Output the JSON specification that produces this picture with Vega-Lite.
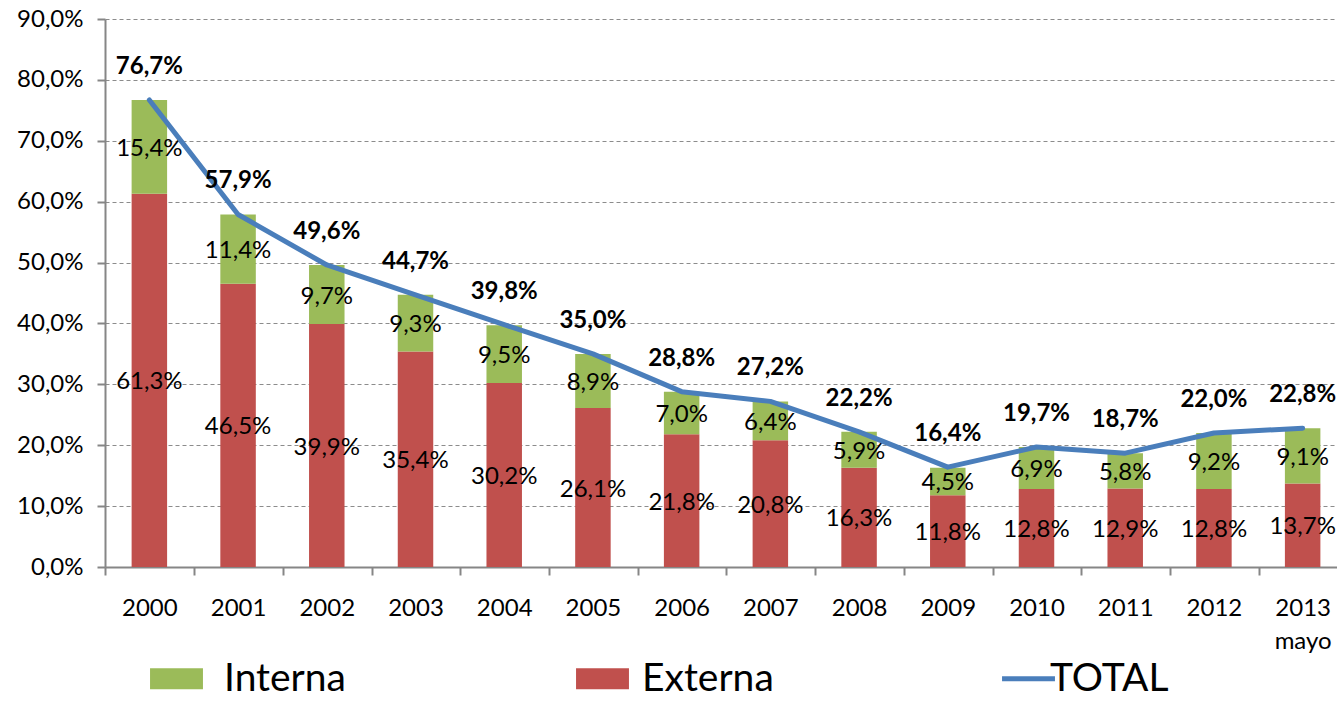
{
  "$schema": "https://vega.github.io/schema/vega-lite/v6.json",
  "width": 1242,
  "height": 548,
  "autosize": {"type": "none"},
  "padding": {"left": 105, "top": 19, "right": 0, "bottom": 134},
  "background": "white",
  "datasets": {
    "parts": [
      {"year": "2000", "type": "Externa", "ord": 1, "value": 0.613},
      {"year": "2000", "type": "Interna", "ord": 2, "value": 0.154},
      {"year": "2001", "type": "Externa", "ord": 1, "value": 0.465},
      {"year": "2001", "type": "Interna", "ord": 2, "value": 0.114},
      {"year": "2002", "type": "Externa", "ord": 1, "value": 0.399},
      {"year": "2002", "type": "Interna", "ord": 2, "value": 0.097},
      {"year": "2003", "type": "Externa", "ord": 1, "value": 0.354},
      {"year": "2003", "type": "Interna", "ord": 2, "value": 0.093},
      {"year": "2004", "type": "Externa", "ord": 1, "value": 0.302},
      {"year": "2004", "type": "Interna", "ord": 2, "value": 0.095},
      {"year": "2005", "type": "Externa", "ord": 1, "value": 0.261},
      {"year": "2005", "type": "Interna", "ord": 2, "value": 0.089},
      {"year": "2006", "type": "Externa", "ord": 1, "value": 0.218},
      {"year": "2006", "type": "Interna", "ord": 2, "value": 0.070},
      {"year": "2007", "type": "Externa", "ord": 1, "value": 0.208},
      {"year": "2007", "type": "Interna", "ord": 2, "value": 0.064},
      {"year": "2008", "type": "Externa", "ord": 1, "value": 0.163},
      {"year": "2008", "type": "Interna", "ord": 2, "value": 0.059},
      {"year": "2009", "type": "Externa", "ord": 1, "value": 0.118},
      {"year": "2009", "type": "Interna", "ord": 2, "value": 0.045},
      {"year": "2010", "type": "Externa", "ord": 1, "value": 0.128},
      {"year": "2010", "type": "Interna", "ord": 2, "value": 0.069},
      {"year": "2011", "type": "Externa", "ord": 1, "value": 0.129},
      {"year": "2011", "type": "Interna", "ord": 2, "value": 0.058},
      {"year": "2012", "type": "Externa", "ord": 1, "value": 0.128},
      {"year": "2012", "type": "Interna", "ord": 2, "value": 0.092},
      {"year": "2013", "type": "Externa", "ord": 1, "value": 0.137},
      {"year": "2013", "type": "Interna", "ord": 2, "value": 0.091}
    ],
    "totals": [
      {"year": "2000", "total": 0.767},
      {"year": "2001", "total": 0.579},
      {"year": "2002", "total": 0.496},
      {"year": "2003", "total": 0.447},
      {"year": "2004", "total": 0.398},
      {"year": "2005", "total": 0.350},
      {"year": "2006", "total": 0.288},
      {"year": "2007", "total": 0.272},
      {"year": "2008", "total": 0.222},
      {"year": "2009", "total": 0.164},
      {"year": "2010", "total": 0.197},
      {"year": "2011", "total": 0.187},
      {"year": "2012", "total": 0.220},
      {"year": "2013", "total": 0.228}
    ]
  },
  "layer": [
    {
      "data": {"name": "parts"},
      "mark": {"type": "bar"},
      "encoding": {
        "x": {
          "field": "year", "type": "nominal", "sort": null,
          "scale": {"paddingInner": 0.6, "paddingOuter": 0.3},
          "axis": {
            "title": null,
            "labelAngle": 0,
            "tickOffset": -44,
            "labelOffset": 44,
            "labelExpr": "datum.value == '2013' ? ['2013', 'mayo'] : datum.label"
          }
        },
        "y": {
          "field": "value", "type": "quantitative", "stack": "zero",
          "scale": {"domain": [0, 0.9], "nice": false},
          "axis": {
            "title": null,
            "values": [0, 0.1, 0.2, 0.3, 0.4, 0.5, 0.6, 0.7, 0.8, 0.9],
            "format": ".1%"
          }
        },
        "color": {
          "field": "type", "type": "nominal",
          "scale": {"domain": ["Interna", "Externa", "TOTAL"], "range": ["#9BBB59", "#C0504D", "#4A7EBB"]},
          "legend": {
            "title": null,
            "orient": "none",
            "legendX": 52,
            "legendY": 640,
            "direction": "horizontal",
            "columns": 3,
            "gridAlign": "all",
            "columnPadding": 218,
            "labelFontSize": 39,
            "labelOffset": 26,
            "labelColor": "#000000",
            "symbolSize": 2800,
            "labelLimit": 400,
            "encode": {
              "symbols": {
                "update": {
                  "shape": {"signal": "datum.value === 'TOTAL' ? 'stroke' : 'M-1,-0.4H1V0.4H-1Z'"},
                  "fill": {"signal": "datum.value === 'TOTAL' ? 'transparent' : scale('color', datum.value)"},
                  "stroke": {"signal": "datum.value === 'TOTAL' ? scale('color', datum.value) : 'transparent'"},
                  "strokeWidth": {"signal": "datum.value === 'TOTAL' ? 5 : 0"},
                  "opacity": {"value": 1}
                }
              },
              "labels": {
                "update": {
                  "dx": {"signal": "datum.value === 'TOTAL' ? -24 : (datum.value === 'Externa' ? -6 : 2)"}
                }
              }
            }
          }
        },
        "order": {"field": "ord", "type": "quantitative"}
      }
    },
    {
      "data": {"name": "parts"},
      "transform": [
        {"stack": "value", "groupby": ["year"], "sort": [{"field": "ord"}], "as": ["v0", "v1"]},
        {"calculate": "(datum.v0 + datum.v1) / 2", "as": "mid"}
      ],
      "mark": {"type": "text", "fontSize": 24, "color": "#000000", "dy": 2},
      "encoding": {
        "x": {"field": "year", "type": "nominal", "sort": null},
        "y": {"field": "mid", "type": "quantitative"},
        "text": {"field": "value", "type": "quantitative", "format": ".1%"}
      }
    },
    {
      "data": {"name": "totals"},
      "mark": {"type": "line", "color": "#4A7EBB", "strokeWidth": 5, "strokeCap": "round", "strokeJoin": "round"},
      "encoding": {
        "x": {"field": "year", "type": "nominal", "sort": null},
        "y": {"field": "total", "type": "quantitative"}
      }
    },
    {
      "data": {"name": "totals"},
      "mark": {"type": "text", "fontSize": 24, "fontWeight": "bold", "color": "#000000", "dy": -33},
      "encoding": {
        "x": {"field": "year", "type": "nominal", "sort": null},
        "y": {"field": "total", "type": "quantitative"},
        "text": {"field": "total", "type": "quantitative", "format": ".1%"}
      }
    }
  ],
  "config": {
    "font": "Lato",
    "locale": {
      "number": {"decimal": ",", "thousands": ".", "grouping": [3], "currency": ["", " €"]}
    },
    "view": {"stroke": null},
    "axis": {
      "labelFontSize": 24,
      "labelColor": "#000000",
      "domainColor": "#868686",
      "domainWidth": 2,
      "tickColor": "#868686",
      "tickWidth": 2,
      "tickSize": 8
    },
    "axisX": {"grid": false, "labelPadding": 21, "labelLineHeight": 33},
    "axisY": {"grid": true, "gridColor": "#8c8c8c", "gridDash": [4, 3], "gridWidth": 1.2, "labelPadding": 14}
  }
}
